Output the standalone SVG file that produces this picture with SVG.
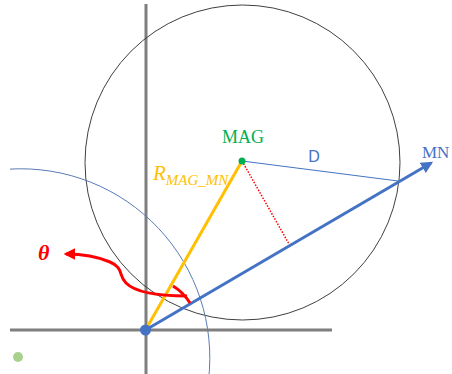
<svg xmlns="http://www.w3.org/2000/svg" width="452" height="374" viewBox="0 0 452 374">
<defs>
<style>
.axis{stroke:#7f7f7f;stroke-width:3;fill:none}
.thin{fill:none;stroke-width:1}
.lbl{font-family:"Liberation Serif",serif}
</style>
<marker id="ab" viewBox="0 0 10 10" refX="8" refY="5" markerWidth="4" markerHeight="4" orient="auto" markerUnits="strokeWidth">
<path d="M0,0 L10,5 L0,10 z" fill="#4472C4"/>
</marker>
<marker id="ar" viewBox="0 0 10 10" refX="8" refY="5" markerWidth="3.8" markerHeight="3.8" orient="auto" markerUnits="strokeWidth">
<path d="M0,0 L10,5 L0,10 z" fill="#FF0000"/>
</marker>
</defs>
<rect width="452" height="374" fill="#ffffff"/>
<g id="axes">
<line class="axis" x1="146" y1="4" x2="146" y2="374"/>
<line class="axis" x1="10" y1="330" x2="332" y2="330"/>
</g>
<g id="circle-D">
<circle class="thin" cx="242.5" cy="162.5" r="157.5" stroke="#404040"/>
</g>
<g id="arc-blue">
<path class="thin" d="M10,169.1 A189,189 0 0 1 208.5,380" stroke="#5a7bb5"/>
</g>
<g id="connectors">
<line x1="242" y1="161" x2="398" y2="181" stroke="#4472C4" stroke-width="1"/>
<line x1="242" y1="161" x2="289" y2="244" stroke="#FF0000" stroke-width="1.5" stroke-dasharray="1.5,1.5"/>
<line x1="145.5" y1="330" x2="242" y2="161" stroke="#FFC000" stroke-width="3"/>
<line x1="145.5" y1="330" x2="431" y2="163" stroke="#4472C4" stroke-width="3" marker-end="url(#ab)"/>
<path d="M173,286 A51,51 0 0 1 190,303" fill="none" stroke="#FF0000" stroke-width="3"/>
<path d="M187,296 C160,296 136,293 126,283 C118,275 124,268 110,262 C96,256 82,254 66,254" fill="none" stroke="#FF0000" stroke-width="3" marker-end="url(#ar)"/>
</g>
<g id="origin">
<circle cx="145.5" cy="330" r="5.5" fill="#4472C4"/>
</g>
<g id="green-point">
<circle cx="18" cy="357" r="5" fill="#A9D18E"/>
</g>
<g id="MAG">
<circle cx="242" cy="161" r="3.5" fill="#00B050"/>
<text class="lbl" x="243" y="143" font-size="18" fill="#00B050" text-anchor="middle">MAG</text>
</g>
<g id="MN">
<text class="lbl" x="422" y="158" font-size="17" fill="#4472C4">MN</text>
</g>
<g id="D">
<text x="314" y="162" font-family="Liberation Sans,sans-serif" font-size="16" fill="#4472C4" text-anchor="middle">D</text>
</g>
<g id="R">
<text class="lbl" x="153" y="180" font-size="21" font-style="italic" fill="#FFC000">R<tspan font-size="15" dy="5">MAG_MN</tspan></text>
</g>
<g id="theta">
<text class="lbl" x="38" y="260" font-size="22" font-style="italic" font-weight="bold" fill="#FF0000">θ</text>
</g>
</svg>
